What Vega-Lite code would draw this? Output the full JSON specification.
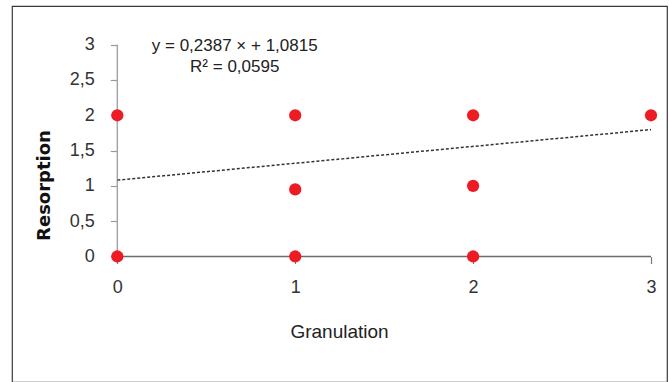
{
  "$schema": "https://vega.github.io/schema/vega-lite/v6.json",
  "width": 655,
  "height": 376,
  "autosize": {"type": "none"},
  "padding": {"left": 12, "top": 6, "right": 2, "bottom": 0},
  "background": "white",
  "config": {
    "view": {"stroke": "#3a3a3a", "strokeWidth": 1.2},
    "font": "Liberation Sans"
  },
  "datasets": {
    "points": [
      {"Granulation": 0, "Resorption": 2},
      {"Granulation": 0, "Resorption": 0},
      {"Granulation": 1, "Resorption": 2},
      {"Granulation": 1, "Resorption": 0.95},
      {"Granulation": 1, "Resorption": 0},
      {"Granulation": 2, "Resorption": 2},
      {"Granulation": 2, "Resorption": 1},
      {"Granulation": 2, "Resorption": 0},
      {"Granulation": 3, "Resorption": 2}
    ],
    "trend": [
      {"Granulation": 0, "Resorption": 1.0815},
      {"Granulation": 3, "Resorption": 1.7976}
    ],
    "yaxis": [{"Granulation": 0, "Resorption": 0, "Granulation_end": 0, "Resorption_end": 3}],
    "xaxis": [{"Granulation": 0, "Resorption": 0, "Granulation_end": 3, "Resorption_end": 0}],
    "labels": [
      {"label": "y = 0,2387 × + 1,0815", "Granulation": 0.66, "Resorption": 2.975},
      {"label": "R² = 0,0595", "Granulation": 0.66, "Resorption": 2.68}
    ]
  },
  "layer": [
    {
      "data": {"name": "yaxis"},
      "mark": {"type": "rule", "color": "#a6a6a6", "strokeWidth": 1.5},
      "encoding": {
        "x": {
          "field": "Granulation", "type": "quantitative",
          "scale": {"domain": [-0.592, 3.09], "nice": false, "zero": false},
          "axis": {
            "orient": "bottom", "offset": -125.5, "values": [0, 1, 2, 3], "format": "d",
            "domain": false, "grid": false, "tickColor": "#777777", "tickSize": 7, "tickWidth": 1.2,
            "labelFont": "Liberation Sans", "labelFontSize": 18, "labelColor": "#333333", "labelPadding": 15,
            "title": "Granulation", "titleFont": "Liberation Sans", "titleFontSize": 19, "titleFontWeight": "normal",
            "titleColor": "#222222", "titleX": 327, "titleY": 75, "titleBaseline": "middle", "titleAlign": "center"
          }
        },
        "y": {
          "field": "Resorption", "type": "quantitative",
          "scale": {"domain": [-1.778, 3.548], "nice": false, "zero": false},
          "axis": {
            "orient": "left", "offset": -105.3, "values": [0, 0.5, 1, 1.5, 2, 2.5, 3],
            "domain": false, "grid": false, "tickColor": "#999999", "tickSize": 7, "tickWidth": 1.2,
            "labelFont": "Liberation Sans", "labelFontSize": 18, "labelColor": "#333333", "labelPadding": 16,
            "labelExpr": "replace(format(datum.value, '~g'), '.', ',')",
            "title": "Resorption", "titleFont": "DejaVu Sans", "titleFontSize": 18, "titleFontWeight": "bold",
            "titleColor": "#111111", "titleAngle": -90, "titleX": -72.8, "titleY": 179,
            "titleBaseline": "middle", "titleAlign": "center"
          }
        },
        "x2": {"field": "Granulation_end"},
        "y2": {"field": "Resorption_end"}
      }
    },
    {
      "data": {"name": "xaxis"},
      "mark": {"type": "rule", "color": "#6b6b6b", "strokeWidth": 1.5},
      "encoding": {
        "x": {"field": "Granulation", "type": "quantitative"},
        "y": {"field": "Resorption", "type": "quantitative"},
        "x2": {"field": "Granulation_end"},
        "y2": {"field": "Resorption_end"}
      }
    },
    {
      "data": {"name": "trend"},
      "mark": {"type": "line", "color": "#333333", "strokeWidth": 1.5, "strokeDash": [3, 2]},
      "encoding": {
        "x": {"field": "Granulation", "type": "quantitative"},
        "y": {"field": "Resorption", "type": "quantitative"}
      }
    },
    {
      "data": {"name": "points"},
      "mark": {"type": "point", "shape": "circle", "filled": true, "color": "#ed1c24", "opacity": 1, "size": 150},
      "encoding": {
        "x": {"field": "Granulation", "type": "quantitative"},
        "y": {"field": "Resorption", "type": "quantitative"}
      }
    },
    {
      "data": {"name": "labels"},
      "mark": {"type": "text", "font": "Liberation Sans", "fontSize": 17, "color": "#222222", "align": "center", "baseline": "middle"},
      "encoding": {
        "x": {"field": "Granulation", "type": "quantitative"},
        "y": {"field": "Resorption", "type": "quantitative"},
        "text": {"field": "label"}
      }
    }
  ]
}
